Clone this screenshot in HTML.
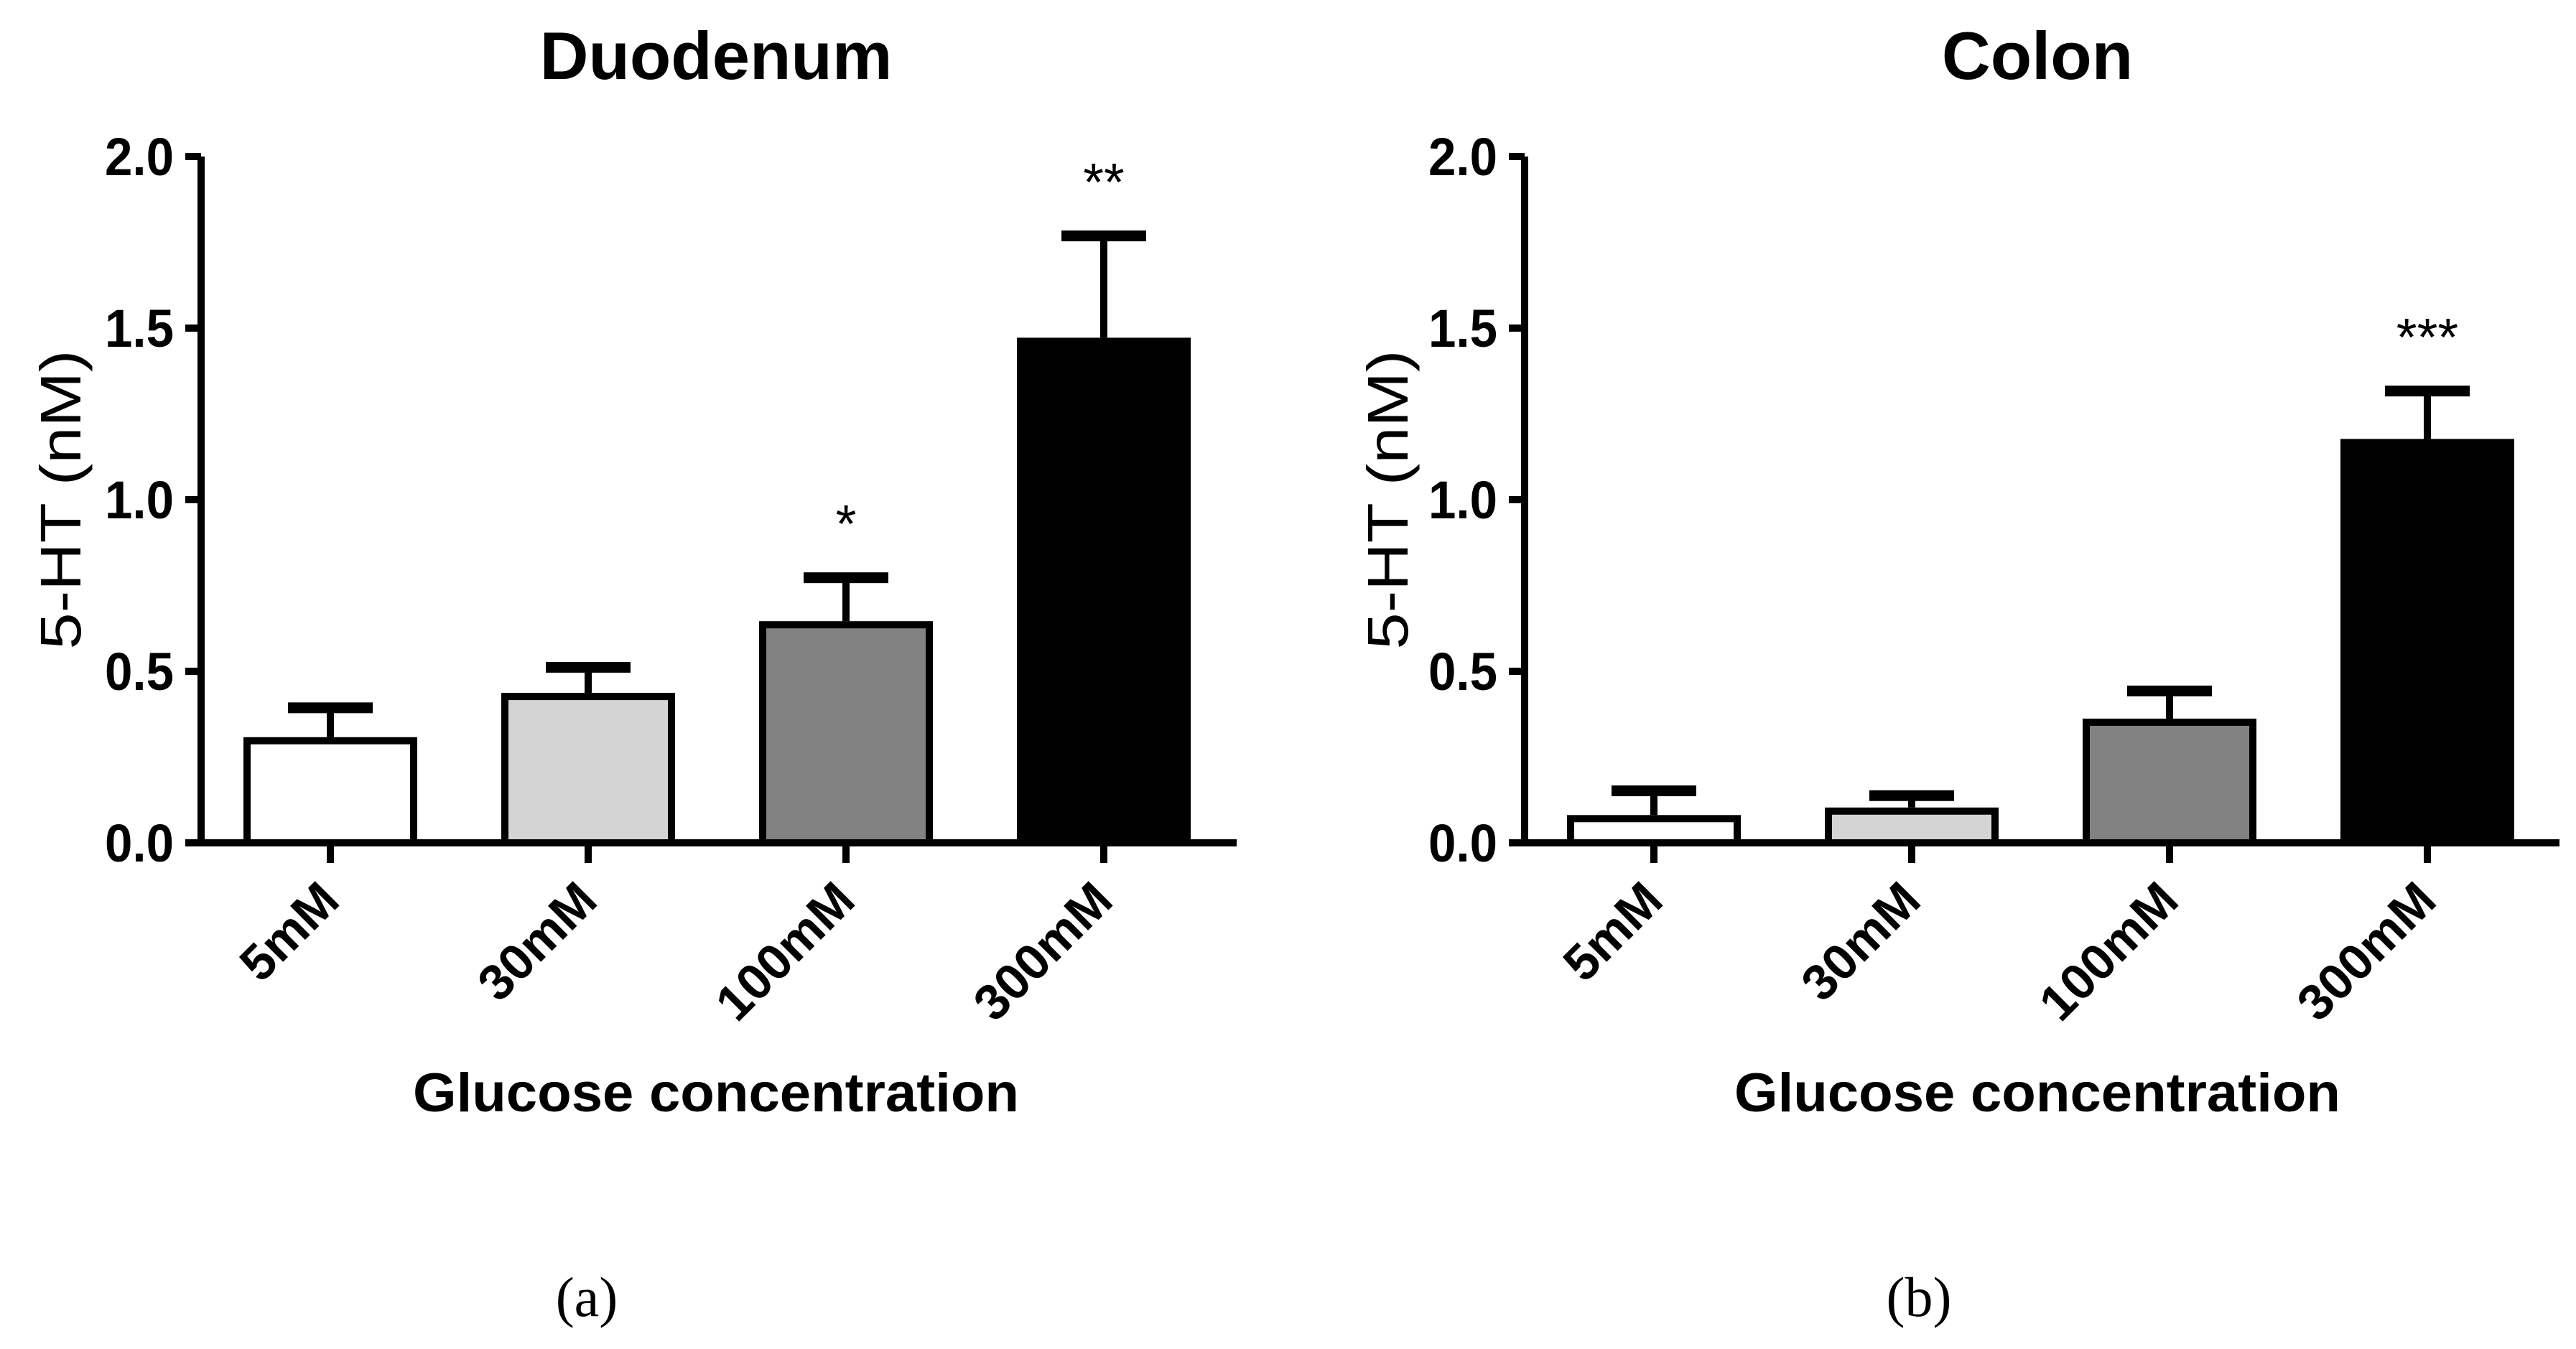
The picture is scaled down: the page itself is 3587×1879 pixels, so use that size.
<!DOCTYPE html>
<html><head><meta charset="utf-8"><style>
html,body{margin:0;padding:0;background:#fff;}
svg{display:block;font-family:"Liberation Sans",Arial,sans-serif;}
</style></head><body>
<svg id="fig" width="3587" height="1879" viewBox="0 0 3587 1879" xmlns="http://www.w3.org/2000/svg"></svg>
<script>
const categories = ["5mM","30mM","100mM","300mM"];
const duoValues = [0.308,0.437,0.646,1.472];
const duoErrTop = [0.403,0.521,0.782,1.778];
const duoStars = ["","","*","**"];
const colValues = [0.081,0.103,0.362,1.177];
const colErrTop = [0.161,0.147,0.452,1.326];
const colStars = ["","","","***"];
const yTicks = [0,0.5,1.0,1.5,2.0];
const yTickLabels = ["0.0","0.5","1.0","1.5","2.0"];
const fills = ["#ffffff","#d4d4d4","#828282","#000000"];

const NS="http://www.w3.org/2000/svg";
const svg=document.getElementById('fig');
function mk(tag,attrs,parent){const e=document.createElementNS(NS,tag);for(const k in attrs)e.setAttribute(k,attrs[k]);(parent||svg).appendChild(e);return e;}

function panel(cfg){
  const g=mk('g',{});
  
  
  const ax=cfg.axisX, y0=1174, y2=218;
  const yS=v=>y0-(v/2)*(y0-y2);
  const band=359, firstTick=ax+180;
  const xS=i=>firstTick+i*band;
  const bw=242;
  const t=mk('text',{x:cfg.center,y:110,'font-size':94,'font-weight':'bold','text-anchor':'middle'},g);
  t.textContent=cfg.title;
  
  
  categories.forEach((c,i)=>{
    const cx=xS(i), top=yS(cfg.values[i]), et=yS(cfg.err[i]);
    const el=mk('line',{x1:cx,x2:cx,y1:top,y2:et+7,stroke:'#000','stroke-width':10},g);
    
    
    const cap=mk('rect',{x:cx-59,y:et-3,width:118,height:15,fill:'#000'},g);
    
    
    const r=mk('rect',{x:cx-bw/2+5,y:top+5,width:bw-10,height:y0-top-5,fill:fills[i],stroke:'#000','stroke-width':10},g);
    
    
    if(cfg.stars[i]){
      const s=mk('text',{x:cx,y:yS(cfg.err[i])-45,'font-size':74,'text-anchor':'middle'},g);
      s.textContent=cfg.stars[i];
      
      
    }
    const tk=mk('line',{x1:cx,x2:cx,y1:y0,y2:1202,stroke:'#000','stroke-width':10},g);
    
    
    const lx=cx+16, ly=1258;
    const lb=mk('text',{x:lx,y:ly,'font-size':70,'font-weight':'bold','text-anchor':'end',transform:`rotate(-45 ${lx} ${ly})`},g);
    lb.textContent=c;
    
    
  });
  const ya=mk('line',{x1:ax,x2:ax,y1:y2,y2:y0+5,stroke:'#000','stroke-width':10},g);
  
  
  const xa=mk('line',{x1:ax-22,x2:cfg.axisEnd,y1:y0,y2:y0,stroke:'#000','stroke-width':10},g);
  
  
  yTicks.forEach((v,i)=>{
    const yy=yS(v);
    const tl=mk('line',{x1:ax-22,x2:ax,y1:yy,y2:yy,stroke:'#000','stroke-width':10},g);
    
    
    const tx=mk('text',{x:ax-38,y:yy+26,'font-size':74,'font-weight':'bold','text-anchor':'end',textLength:96,lengthAdjust:'spacingAndGlyphs'},g);
    tx.textContent=yTickLabels[i];
    
    
  });
  const yl=mk('text',{x:0,y:0,'font-size':80,'text-anchor':'middle',textLength:417,lengthAdjust:'spacingAndGlyphs',transform:`translate(${cfg.ylabelX} 696) rotate(-90)`},g);
  yl.textContent='5-HT (nM)';
  
  
  const xl=mk('text',{x:cfg.center,y:1548,'font-size':76,'font-weight':'bold','text-anchor':'middle',textLength:844,lengthAdjust:'spacingAndGlyphs'},g);
  xl.textContent='Glucose concentration';
  
  
  const cp=mk('text',{x:cfg.capX,y:1833,'font-size':78,'text-anchor':'middle','font-family':'"Liberation Serif",serif'},g);
  cp.textContent=cfg.caption;
  
  
}
panel({name:'duodenum-chart',title:'Duodenum',axisX:280,axisEnd:1722,center:997,values:duoValues,err:duoErrTop,stars:duoStars,ylabelX:112,capX:817,caption:'(a)'});
panel({name:'colon-chart',title:'Colon',axisX:2123,axisEnd:3564,center:2837,values:colValues,err:colErrTop,stars:colStars,ylabelX:1960,capX:2672,caption:'(b)'});
</script>
</body></html>
